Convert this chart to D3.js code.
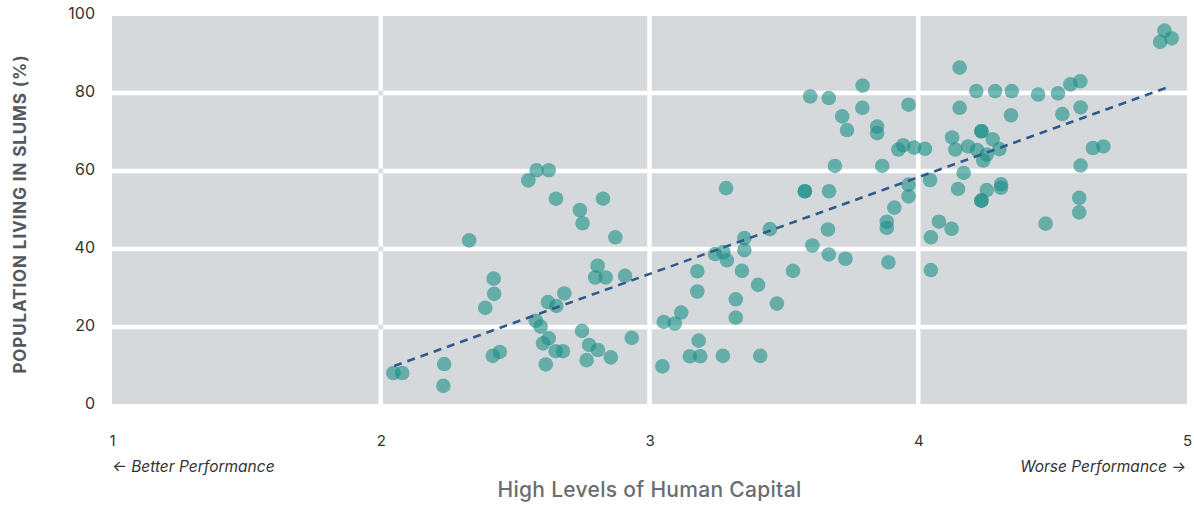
<!DOCTYPE html>
<html>
<head>
<meta charset="utf-8">
<script src="https://cdn.jsdelivr.net/npm/d3@7/dist/d3.min.js"></script>
<style>
  html, body { margin: 0; padding: 0; background: #ffffff; }
  svg { display: block; }
</style>
</head>
<body>
<svg id="chart" width="1194" height="510"></svg>
<script>
// Human capital score (x) vs. share of population living in slums (y)
const scoreValues = [
  2.580, 2.625, 2.549, 2.652, 2.827, 2.741, 2.751, 2.873, 2.329, 2.420,
  2.807, 2.798, 2.837, 2.909, 2.422, 2.683, 2.622, 2.653, 2.389, 2.577,
  2.595, 2.749, 2.625, 2.604, 2.934, 2.775, 2.808, 2.651, 2.678, 2.443,
  2.417, 2.236, 2.766, 2.856, 2.614, 2.047, 2.080, 2.233, 3.048, 3.053,
  3.094, 3.118, 3.183, 3.150, 3.189, 3.273, 3.412, 3.178, 3.178, 3.321,
  3.321, 3.404, 3.474, 3.344, 3.534, 3.288, 3.244, 3.275, 3.353, 3.353,
  3.448, 3.285, 3.578, 3.578, 3.668, 3.606, 3.664, 3.667, 3.729, 3.690,
  3.866, 3.889, 3.883, 3.883, 3.911, 3.964, 3.964, 4.044, 4.047, 4.047,
  4.077, 3.598, 3.667, 3.793, 3.792, 3.717, 3.735, 3.847, 3.847, 3.964,
  3.926, 3.944, 3.985, 4.025, 4.916, 4.900, 4.943, 4.154, 4.216, 4.286,
  4.348, 4.446, 4.520, 4.566, 4.603, 4.154, 4.345, 4.536, 4.604, 4.235,
  4.235, 4.126, 4.277, 4.138, 4.185, 4.219, 4.255, 4.242, 4.302, 4.650,
  4.689, 4.604, 4.169, 4.148, 4.255, 4.308, 4.308, 4.235, 4.235, 4.599,
  4.599, 4.474, 4.124
];
const slumShares = [
  60.2, 60.2, 57.6, 52.9, 52.9, 50.0, 46.6, 43.0, 42.2, 32.4,
  35.7, 32.7, 32.7, 33.1, 28.5, 28.6, 26.4, 25.4, 24.9, 21.6,
  20.1, 19.0, 17.1, 15.8, 17.2, 15.4, 14.1, 13.8, 13.8, 13.6,
  12.6, 10.5, 11.5, 12.2, 10.4, 8.2, 8.2, 4.9, 9.9, 21.3,
  20.9, 23.7, 16.5, 12.5, 12.5, 12.6, 12.6, 29.1, 34.3, 27.1,
  22.4, 30.8, 26.0, 34.4, 34.4, 37.1, 38.7, 39.2, 39.7, 42.8,
  45.1, 55.6, 54.8, 54.8, 54.8, 40.9, 45.0, 38.6, 37.5, 61.3,
  61.3, 36.6, 47.0, 45.4, 50.6, 53.5, 56.5, 57.7, 43.0, 34.6,
  47.0, 79.1, 78.7, 81.9, 76.2, 74.0, 70.5, 71.4, 69.7, 77.0,
  65.5, 66.6, 66.0, 65.7, 96.0, 93.1, 94.0, 86.5, 80.5, 80.5,
  80.5, 79.6, 79.9, 82.2, 83.0, 76.2, 74.3, 74.6, 76.3, 70.2,
  70.2, 68.6, 68.1, 65.5, 66.3, 65.4, 64.2, 62.7, 65.6, 65.9,
  66.3, 61.4, 59.5, 55.4, 55.1, 56.6, 55.7, 52.4, 52.4, 53.1,
  49.4, 46.5, 45.2
];

// Fitted trend: [score, share] at both ends of the data range
const trendScores = [2.05, 4.93];
const trendShares = [10.0, 81.5];

const xTicks = [1, 2, 3, 4, 5];
const yTicks = [0, 20, 40, 60, 80, 100];

const points = scoreValues.map((s, i) => ({ x: s, y: slumShares[i] }));
const trend = trendScores.map((s, i) => ({ x: s, y: trendShares[i] }));

const svg = d3.select("#chart");
const plot = { left: 112, right: 1187, top: 16, bottom: 404 };
const FONT = "Inter, 'Noto Sans', sans-serif";

const x = d3.scaleLinear().domain([1, 5]).range([plot.left, plot.right]);
const y = d3.scaleLinear().domain([0, 100]).range([plot.bottom + 1, plot.top - 1]);

// Panel background
svg.append("rect")
  .attr("x", plot.left).attr("y", plot.top)
  .attr("width", plot.right - plot.left)
  .attr("height", plot.bottom - plot.top)
  .attr("fill", "#d6d9dc");

// White grid lines between the panels
const innerY = yTicks.filter(t => t > 0 && t < 100);
const innerX = xTicks.filter(t => t > 1 && t < 5);
const grid = svg.append("g");
grid.selectAll("line.h")
  .data(innerY)
  .join("line")
  .attr("class", "h")
  .attr("x1", plot.left).attr("x2", plot.right)
  .attr("y1", d => y(d)).attr("y2", d => y(d))
  .attr("stroke", "#ffffff").attr("stroke-width", 4.5);
grid.selectAll("line.v")
  .data(innerX)
  .join("line")
  .attr("class", "v")
  .attr("y1", plot.top).attr("y2", plot.bottom)
  .attr("x1", d => x(d)).attr("x2", d => x(d))
  .attr("stroke", "#ffffff").attr("stroke-width", 4.5);
// small grey joints where the first vertical divider crosses the rows
grid.selectAll("rect.joint")
  .data(innerY)
  .join("rect")
  .attr("class", "joint")
  .attr("x", x(2) - 2.5).attr("y", d => y(d) - 2.5)
  .attr("width", 5).attr("height", 5)
  .attr("fill", "#dcdee1");

// Scatter points
svg.append("g")
  .selectAll("circle")
  .data(points)
  .join("circle")
  .attr("cx", d => x(d.x))
  .attr("cy", d => y(d.y))
  .attr("r", 7.3)
  .attr("fill", "#198f85")
  .attr("fill-opacity", 0.6);

// Trend line
svg.append("path")
  .datum(trend)
  .attr("d", d3.line().x(d => x(d.x)).y(d => y(d.y)))
  .attr("fill", "none")
  .attr("stroke", "#2d5b8c")
  .attr("stroke-width", 2.6)
  .attr("stroke-dasharray", "8,6");

// Y axis tick labels
const yAxis = d3.axisLeft(y).tickValues(yTicks).tickSize(0).tickPadding(0);
svg.append("g")
  .attr("transform", `translate(95,-2)`)
  .call(yAxis)
  .call(g => g.select(".domain").remove())
  .selectAll("text")
  .attr("font-family", FONT)
  .attr("font-size", 16)
  .attr("fill", "#333333")
  .attr("dy", "0.32em");

// X axis tick labels
const xAxis = d3.axisBottom(x).tickValues(xTicks).tickSize(0).tickPadding(0).tickFormat(d3.format("d"));
svg.append("g")
  .attr("transform", `translate(0,435)`)
  .call(xAxis)
  .call(g => g.select(".domain").remove())
  .selectAll("text")
  .attr("font-family", FONT)
  .attr("font-size", 15)
  .attr("fill", "#333333");

// Direction hints
svg.append("text")
  .attr("x", plot.left).attr("y", 471.5)
  .attr("font-family", FONT)
  .attr("font-size", 15.5)
  .attr("font-style", "italic")
  .attr("fill", "#333333")
  .text("← Better Performance");
svg.append("text")
  .attr("x", plot.right - 1).attr("y", 471.5)
  .attr("text-anchor", "end")
  .attr("font-family", FONT)
  .attr("font-size", 15.5)
  .attr("font-style", "italic")
  .attr("fill", "#333333")
  .text("Worse Performance →");

// Axis titles
svg.append("text")
  .attr("x", (plot.left + plot.right) / 2).attr("y", 497)
  .attr("text-anchor", "middle")
  .attr("font-family", FONT)
  .attr("font-size", 21)
  .attr("font-weight", 500)
  .attr("letter-spacing", 0.3)
  .attr("fill", "#6a6d71")
  .text("High Levels of Human Capital");

svg.append("text")
  .attr("transform", `translate(25.5,214) rotate(-90)`)
  .attr("text-anchor", "middle")
  .attr("font-family", FONT)
  .attr("font-size", 17)
  .attr("font-weight", 700)
  .attr("letter-spacing", 0.9)
  .attr("fill", "#55585c")
  .text("POPULATION LIVING IN SLUMS (%)");
</script>
</body>
</html>
